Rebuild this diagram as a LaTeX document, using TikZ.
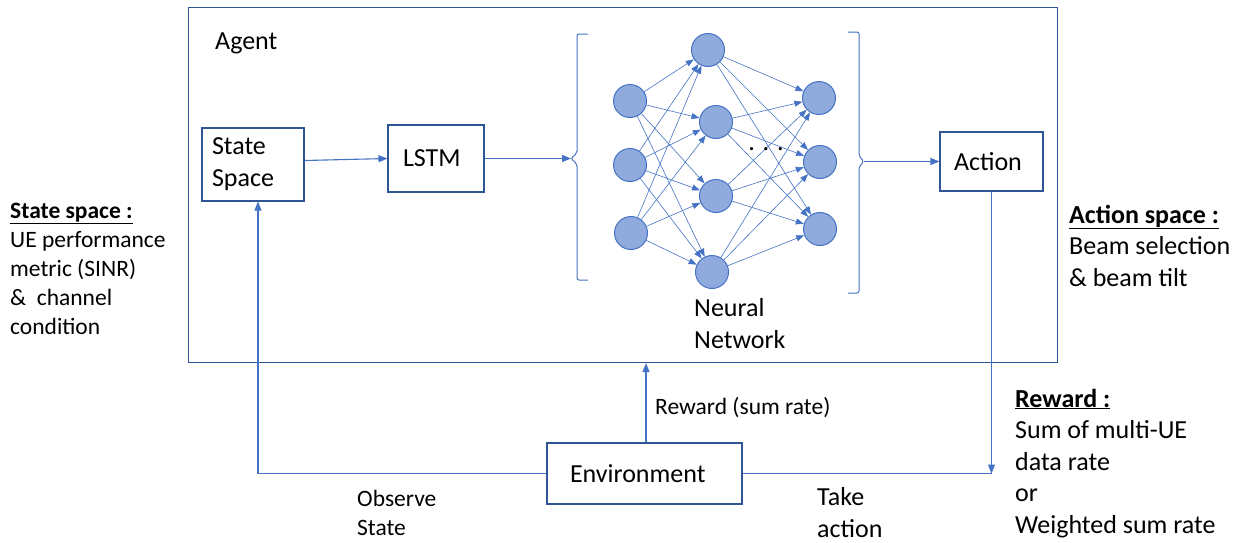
\documentclass[tikz,border=0pt]{standalone}
\usepackage{fontspec}
\setmainfont{Carlito}
\usetikzlibrary{arrows.meta,calc}
\definecolor{boxblue}{HTML}{2F5597}
\definecolor{linkblue}{HTML}{4472C4}
\definecolor{neuronfill}{HTML}{8FAADC}

\begin{document}
\begin{tikzpicture}[x=1pt,y=-1pt,
  box/.style={draw=boxblue, line width=1.1pt, fill=white, inner sep=0pt},
  flow/.style={draw=linkblue, line width=1.1pt, -{Triangle[length=9pt,width=7pt]}},
  wire/.style={draw=linkblue, line width=1pt},
  syn/.style={draw=linkblue, line width=0.6pt, -{Triangle[length=8pt,width=6pt]}},
  neuron/.style={circle, draw=linkblue, fill=neuronfill, line width=1pt, minimum size=33pt, inner sep=0pt},
  boxtext/.style={font=\fontsize{26}{32}\selectfont, align=left},
  big/.style={font=\fontsize{26}{31.5}\selectfont, inner sep=0pt, align=left},
  small/.style={font=\fontsize{23.5}{29}\selectfont, inner sep=0pt, align=left}]
\useasboundingbox (0,0) rectangle (1243,542);

% agent frame
\node[box, fill=none, minimum width=869pt, minimum height=355pt, anchor=north west] (agent) at (188,7) {};
\node[big, anchor=base west] (agentlbl) at (215,49) {Agent};

% processing blocks (multi-line anchors sit on the last line's baseline)
\node[box, boxtext, minimum width=102pt, minimum height=73pt, text width=82pt, inner xsep=10pt] (ss) at (253,164.5) {State\\Space};
\node[box, boxtext, minimum width=96pt, minimum height=67pt, text width=66pt, inner xsep=15pt] (lstm) at (436,158.5) {LSTM};
\node[box, boxtext, minimum width=103pt, minimum height=59pt, text width=75pt, inner xsep=14pt] (action) at (991.5,161.5) {Action};
\node[box, boxtext, minimum width=195pt, minimum height=61pt, text width=149pt, inner xsep=23pt] (env) at (644.5,473.5) {Environment};

% neural network
\node[neuron] (i1) at (630,101) {};
\node[neuron] (i2) at (630,165) {};
\node[neuron] (i3) at (631,233) {};
\node[neuron] (h1) at (708,50) {};
\node[neuron] (h2) at (716,122) {};
\node[neuron] (h3) at (716,196) {};
\node[neuron] (h4) at (712,272) {};
\node[neuron] (o1) at (819,98) {};
\node[neuron] (o2) at (820,162) {};
\node[neuron] (o3) at (820,229) {};
\foreach \a in {i1,i2,i3}
  \foreach \b in {h1,h2,h3,h4}
    \draw[syn] (\a) -- (\b);
\foreach \a in {h1,h2,h3,h4}
  \foreach \b in {o1,o2,o3}
    \draw[syn] (\a) -- (\b);
\node[big, anchor=base] (dots) at (766,150) {. . .};
\node[big, anchor=base west] (nnlbl) at (694,348) {Neural\\Network};

% brackets around the network
\coordinate (lbr) at (571,158.5);
\coordinate (rbr) at (864,161.5);
\draw[wire, rounded corners=2pt] (588,34) -- (577,34) -- (577,153) -- (lbr) -- (577,164) -- (577,280) -- (588,280);
\draw[wire, rounded corners=2pt] (848,32) -- (859,32) -- (859,156) -- (rbr) -- (859,167) -- (859,293) -- (848,293);

% flow inside the agent
\draw[flow] ($(ss.east)+(0,-4)$) -- (lstm.west);
\draw[flow] (lstm.east) -- (lstm.east -| lbr);
\draw[flow] (rbr) -- (rbr -| action.west);

% loop through the environment
\coordinate (rw) at ($(env.north)+(1.5,0)$);
\draw[flow] (rw) -- (rw |- agent.south);
\coordinate (obs) at ($(ss.south)+(5,0)$);
\draw[flow] (env.west) -| (obs);
\coordinate (ta) at (action.south |- env.east);
\draw[flow] (action.south) -- (ta);
\draw[wire, line width=1.1pt] (env.east) -- (ta);

% connector labels
\node[small, anchor=base west] (rwlbl) at (655,414) {Reward (sum rate)};
\node[small, anchor=base west] (obslbl) at (357,535) {Observe\\State};
\node[big, anchor=base west] (talbl) at (817,537) {Take\\action};

% side notes
\node[small, anchor=base west] (statenote) at (10,334)
  {\textbf{\underline{State space :}}\\UE performance\\metric (SINR)\\\&\ \ channel\\condition};
\node[big, anchor=base west] (actnote) at (1069,286)
  {\textbf{\underline{Action space :}}\\Beam selection\\\& beam tilt};
\node[big, anchor=base west] (rwnote) at (1015,533)
  {\textbf{\underline{Reward :}}\\Sum of multi-UE\\data rate\\or\\Weighted sum rate};
\end{tikzpicture}
\end{document}
